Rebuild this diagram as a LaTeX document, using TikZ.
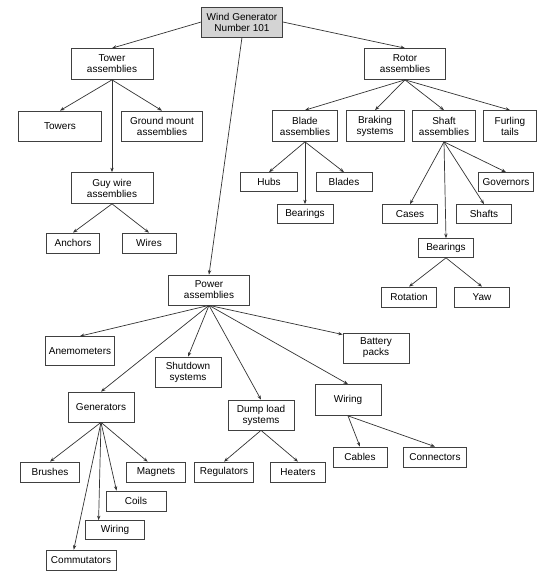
\documentclass[tikz,border=0pt]{standalone}
\usepackage{fontspec}
\setmainfont{Liberation Sans}
\usetikzlibrary{arrows.meta}
\tikzset{
  box/.style={draw=black!75,line width=.7pt,align=center,inner sep=1pt,
    font=\fontsize{10}{11}\selectfont},
  arr/.style={draw=black!80,line width=.7pt,-{Stealth[length=4.5pt,width=3.4pt]}}
}
\begin{document}
\begin{tikzpicture}[x=1pt,y=-1pt]
  \useasboundingbox (0,0) rectangle (555,576);
  \node[box,fill=black!17,minimum width=81pt,minimum height=30pt] (root) at (242,22)
    {Wind Generator\\Number 101};
  % name/x/y/width/height/text
  \foreach \n/\x/\y/\w/\h/\t in {
      tower/112/64/82/31/{Tower\\assemblies},towers/60/126/83/30/Towers,
      ground/162/126/81/30/{Ground mount\\assemblies},guy/112/188/82/31/{Guy wire\\assemblies},
      anchors/73/243/53/20/Anchors,wires/149/243/54/20/Wires,
      rotor/405/64/81/31/{Rotor\\assemblies},blade/305/126/65/31/{Blade\\assemblies},
      braking/375/126/58/31/{Braking\\systems},shaft/444/126/63/31/{Shaft\\assemblies},
      furling/510/126/53/31/{Furling\\tails},hubs/269/182/57/19/Hubs,
      blades/344/182/56/19/Blades,bearb/305/214/56/19/Bearings,
      governors/506/182/55/19/Governors,cases/410/214/55/19/Cases,
      shafts/484/214/55/19/Shafts,bears/446/248/55/19/Bearings,
      rotation/409/297/55/20/Rotation,yaw/482/297/55/20/Yaw,
      power/209/290/81/30/{Power\\assemblies},anemo/80/351/69/29/Anemometers,
      shutdown/188/372/66/30/{Shutdown\\systems},gens/101/407/66/30/Generators,
      dump/261/415/66/30/{Dump load\\systems},battery/376/348/66/30/{Battery\\packs},
      wiring/348/400/66/31/Wiring,cables/360/457/54/20/Cables,
      connectors/435/457/63/20/Connectors,regulators/224/472/59/20/Regulators,
      heaters/298/472/55/20/Heaters,brushes/50/472/59/20/Brushes,
      magnets/156/472/59/20/Magnets,coils/136/501/60/20/Coils,
      gwiring/115/530/59/19/Wiring,comm/81/560/70/20/Commutators}
    \node[box,minimum width=\w pt,minimum height=\h pt] (\n) at (\x,\y) {\t};
  % connectors
  \foreach \a/\b in {root.west/tower.north,root.east/rotor.north,root.south/power.north,
      tower.south/towers.north,tower.south/ground.north,tower.south/guy.north,
      guy.south/anchors.north,guy.south/wires.north,
      rotor.south/blade.north,rotor.south/braking.north,rotor.south/shaft.north,
      rotor.south/furling.north,blade.south/hubs.north,blade.south/bearb.north,
      blade.south/blades.north,shaft.south/cases.north,shaft.south/bears.north,
      shaft.south/shafts.north,shaft.south/governors.north,
      bears.south/rotation.north,bears.south/yaw.north,
      power.south/anemo.north,power.south/shutdown.north,power.south/gens.north,
      power.south/dump.north,power.south/wiring.north,power.south/battery.158,
      gens.south/brushes.north,gens.south/magnets.129,gens.south/coils.152,
      gens.south/gwiring.149,gens.south/comm.125,
      dump.south/regulators.north,dump.south/heaters.north,
      wiring.south/cables.north,wiring.south/connectors.north}
    \draw[arr] (\a) -- (\b);
\end{tikzpicture}
\end{document}
